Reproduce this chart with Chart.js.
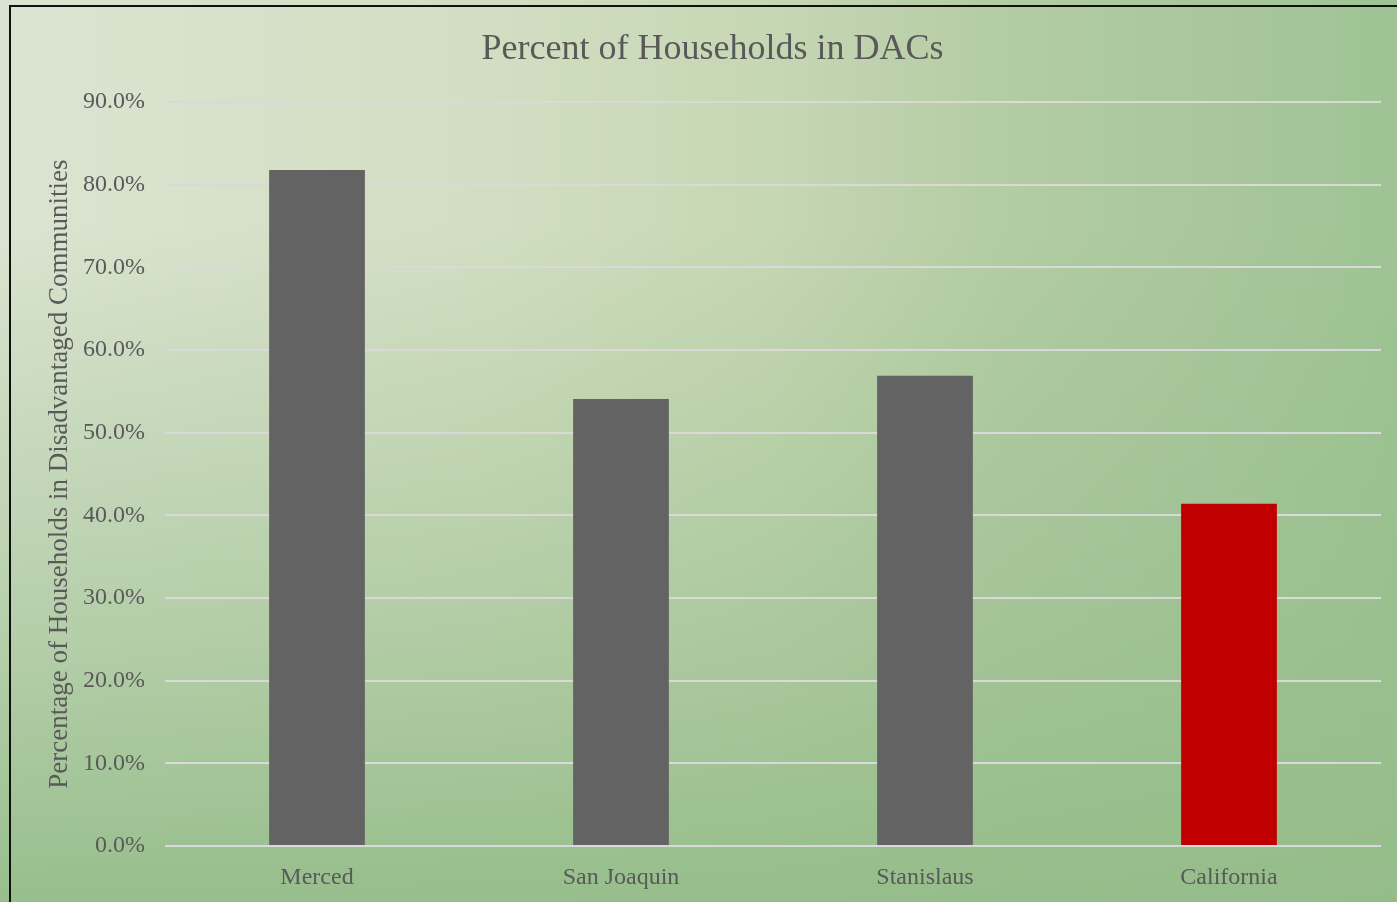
<!DOCTYPE html>
<html>
<head>
<meta charset="utf-8">
<script src="https://cdn.jsdelivr.net/npm/chart.js@4.4.1/dist/chart.umd.min.js"></script>
<style>
  html, body { margin: 0; padding: 0; }
  body {
    width: 1397px; height: 902px; overflow: hidden; position: relative;
    background:
      linear-gradient(to bottom, rgba(150,189,139,0) 25%, rgba(150,189,139,0.55) 70%, rgba(148,188,137,0.95) 100%),
      linear-gradient(to right, #dbe4d1 0%, #d2dec2 35%, #c6d7b4 55%, #b3cca3 72%, #9fc394 100%);
  }
  #frame {
    position: absolute; left: 9px; top: 5px; right: -10px; bottom: -10px;
    border-left: 2px solid #111; border-top: 2px solid #111;
  }
  #wrap { position: absolute; left: 0; top: 0; width: 1397px; height: 902px; }
</style>
</head>
<body>
<div id="frame"></div>
<div id="wrap"><canvas id="chart"></canvas></div>
<script>
// 数据
const categories = ['Merced', 'San Joaquin', 'Stanislaus', 'California'];
const dacShare = [81.8, 54.1, 56.9, 41.4];
const barColors = ['#636363', '#636363', '#636363', '#c00000'];

const textColor = '#595959';
const serif = "'Liberation Serif', 'Times New Roman', serif";

new Chart(document.getElementById('chart').getContext('2d'), {
    type: 'bar',
    data: {
        labels: categories,
        datasets: [{
            label: 'Percent of Households in DACs',
            data: dacShare,
            backgroundColor: barColors,
            barPercentage: 0.315,
            categoryPercentage: 1.0
        }]
    },
    options: {
        responsive: true,
        maintainAspectRatio: false,
        animation: false,
        layout: { padding: { left: 44, right: 16, top: 0, bottom: 0 } },
        plugins: {
            legend: { display: false },
            tooltip: { enabled: false },
            title: {
                display: true,
                text: 'Percent of Households in DACs',
                color: textColor,
                font: { family: serif, size: 36, weight: 'normal' },
                padding: { top: 28, bottom: 31 }
            }
        },
        scales: {
            x: {
                grid: { display: false },
                border: { display: false },
                ticks: { color: textColor, font: { family: serif, size: 24 }, padding: 9 },
                afterFit: s => { s.height = 56; }
            },
            y: {
                min: 0,
                max: 90,
                ticks: {
                    stepSize: 10,
                    color: textColor,
                    font: { family: serif, size: 24 },
                    padding: 20,
                    callback: v => v.toFixed(1) + '%'
                },
                grid: { color: '#d9d9d9', lineWidth: 2, drawTicks: false },
                border: { display: false },
                title: {
                    display: true,
                    text: 'Percentage of Households in Disadvantaged Communities',
                    color: textColor,
                    font: { family: serif, size: 27 },
                    padding: { top: 0, bottom: 0 }
                },
                afterFit: s => { s.width = 165 - 44; }
            }
        }
    }
});
</script>
</body>
</html>
